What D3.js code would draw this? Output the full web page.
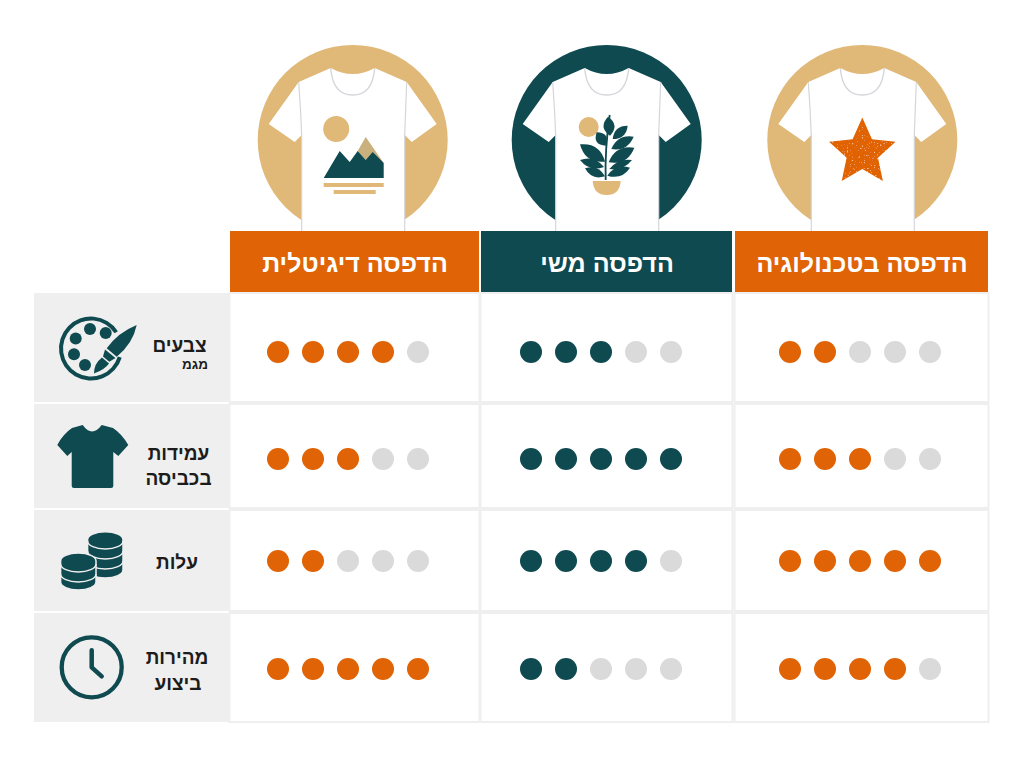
<!DOCTYPE html>
<html lang="he">
<head>
<meta charset="utf-8">
<script src="https://cdn.jsdelivr.net/npm/d3@7"></script>
<style>
  html, body { margin: 0; padding: 0; background: #fff; }
  svg { display: block; }
  text { font-family: "Liberation Sans", sans-serif; }
</style>
</head>
<body>
<div id="chart"></div>
<script>
var methods = ["הדפסה דיגיטלית", "הדפסה משי", "הדפסה בטכנולוגיה"];
var criteria = ["צבעים", "עמידות", "עלות", "מהירות"];
var criteriaLines = [["צבעים", "מגמ"], ["עמידות", "בכביסה"], ["עלות"], ["מהירות", "ביצוע"]];
var digitalScores = [4, 3, 2, 5];
var silkScores = [3, 5, 4, 2];
var techScores = [2, 3, 5, 4];
var maxScore = 5;

var TEAL = "#0f4a50", ORANGE = "#e06305", GOLD = "#e0b877", OFF = "#dadada",
    PANEL = "#efefef", GRID = "#efefef", SEAM = "#d4d6da";

var scores = [digitalScores, silkScores, techScores];
var accents = [ORANGE, TEAL, ORANGE];
var halos = [GOLD, TEAL, GOLD];

var svg = d3.select("#chart").append("svg")
    .attr("width", 1024).attr("height", 768).attr("viewBox", "0 0 1024 768");

// scales
var colLeft = d3.scaleOrdinal().domain(methods).range([230, 481, 735]);
var colWidth = d3.scaleOrdinal().domain(methods).range([249, 251, 253]);
var colCenter = d3.scaleOrdinal().domain(methods).range([355, 607, 862]);
var haloX = d3.scaleOrdinal().domain(methods).range([352.7, 606.7, 862.3]);
var dotCenter = d3.scaleOrdinal().domain(methods).range([348, 601, 860]);
var dotOffset = d3.scalePoint().domain(d3.range(maxScore)).range([-70, 70]);
var rowTop = d3.scaleOrdinal().domain(criteria).range([293, 404, 510, 613]);
var rowHeight = d3.scaleOrdinal().domain(criteria).range([109, 104, 101, 109]);
var dotY = d3.scaleOrdinal().domain(criteria).range([352, 459, 561, 669]);

var defs = svg.append("defs");
var speck = defs.append("filter").attr("id", "speck").attr("x", 0).attr("y", 0).attr("width", 1).attr("height", 1);
speck.append("feTurbulence").attr("type", "fractalNoise").attr("baseFrequency", 0.6).attr("numOctaves", 2).attr("seed", 4).attr("result", "n");
speck.append("feColorMatrix").attr("in", "n").attr("type", "matrix")
    .attr("values", "0 0 0 0 0.96  0 0 0 0 0.62  0 0 0 0 0.35  0 0 0 6 -3.9").attr("result", "s");
speck.append("feComposite").attr("in", "s").attr("in2", "SourceAlpha").attr("operator", "in").attr("result", "c");
var sm = speck.append("feMerge");
sm.append("feMergeNode").attr("in", "SourceGraphic");
sm.append("feMergeNode").attr("in", "c");

function leaf(g, b, t, w, fill) {
  var mx = (b[0] + t[0]) / 2, my = (b[1] + t[1]) / 2,
      dx = t[0] - b[0], dy = t[1] - b[1], len = Math.sqrt(dx * dx + dy * dy),
      nx = -dy / len * w, ny = dx / len * w;
  g.append("path")
      .attr("d", "M" + b + "Q" + [mx + nx, my + ny] + " " + t + "Q" + [mx - nx, my - ny] + " " + b)
      .attr("fill", fill);
}

// shirt drawn around the halo centre
function shirt(g) {
  g.append("path")
      .attr("d", "M-22,-72Q0,-60 22,-72L54,-58L84,-16L59,2L52,-5V91H-51V-5L-58,2L-84,-16L-54,-58Z")
      .attr("fill", "#fff");
  g.append("path").attr("d", "M-22,-72Q-20,-45 0,-45Q20,-45 22,-72")
      .attr("fill", "none").attr("stroke", SEAM).attr("stroke-width", 1.4);
  g.append("path").attr("d", "M-54,-58Q-52,-30 -51,-5V91M54,-58Q53,-30 52,-5V91")
      .attr("fill", "none").attr("stroke", SEAM).attr("stroke-width", 1.2);
}

function artMountain(g) {
  g.append("circle").attr("cx", -16.5).attr("cy", -11).attr("r", 13).attr("fill", GOLD);
  g.append("path").attr("d", "M5,11L13,-3L31,23L20,14L13,20Z").attr("fill", "#c9b07c");
  g.append("path").attr("d", "M-29,38L-13,11L-3,22L5,11L13,20L20,12L31,23V38Z").attr("fill", TEAL);
  g.append("rect").attr("x", -29).attr("y", 43).attr("width", 60).attr("height", 4).attr("fill", GOLD);
  g.append("rect").attr("x", -19).attr("y", 50).attr("width", 42).attr("height", 4).attr("fill", GOLD);
}

function artPlant(g) {
  g.append("circle").attr("cx", -18).attr("cy", -13).attr("r", 10).attr("fill", GOLD);
  g.append("path").attr("d", "M-14,41H14Q13,55 0,55Q-13,55 -14,41Z").attr("fill", GOLD);
  g.append("path").attr("d", "M-1,40Q-2,10 3,-25").attr("fill", "none").attr("stroke", TEAL).attr("stroke-width", 1.8);
  var p = function (x, y) { return [x / 3 - 36.7, y / 3 - 35]; };
  [[[120, 92], [114, 35], 11],
   [[128, 102], [173, 62], 9],
   [[108, 122], [80, 82], 11],
   [[124, 132], [191, 95], 10],
   [[116, 172], [193, 128], 12],
   [[105, 170], [30, 118], 13],
   [[118, 192], [186, 165], 7],
   [[102, 186], [30, 165], 9],
   [[112, 212], [180, 188], 9],
   [[105, 214], [45, 190], 9]
  ].forEach(function (l) { leaf(g, p(l[0][0], l[0][1]), p(l[1][0], l[1][1]), l[2], TEAL); });
}

function artStar(g) {
  var pts = d3.range(10).map(function (i) {
    var r = i % 2 ? 16.5 : 35, a = i * Math.PI / 5;
    return [r * Math.sin(a), 12.6 - r * Math.cos(a)];
  });
  g.append("path").attr("d", d3.line()(pts) + "Z").attr("fill", ORANGE).attr("filter", "url(#speck)");
}
var arts = [artMountain, artPlant, artStar];

// shirts, behind the headers
methods.forEach(function (m, i) {
  var g = svg.append("g").attr("transform", "translate(" + haloX(m) + ",140)");
  g.append("circle").attr("r", 95).attr("fill", halos[i]);
  shirt(g);
  arts[i](g);
});

// left panel and grid
svg.selectAll("rect.panel").data(criteria).enter().append("rect")
    .attr("class", "panel")
    .attr("x", 34).attr("width", 195)
    .attr("y", rowTop).attr("height", rowHeight)
    .attr("fill", PANEL);

methods.forEach(function (m) {
  svg.append("g").selectAll("rect").data(criteria).enter().append("rect")
      .attr("x", colLeft(m) - 0.5).attr("width", colWidth(m) + 1)
      .attr("y", rowTop).attr("height", rowHeight)
      .attr("fill", "#fff").attr("stroke", GRID).attr("stroke-width", 2);
});

// headers
svg.selectAll("rect.head").data(methods).enter().append("rect")
    .attr("class", "head")
    .attr("x", colLeft).attr("y", 231).attr("width", colWidth).attr("height", 61)
    .attr("fill", function (d, i) { return accents[i]; });
svg.selectAll("text.head").data(methods).enter().append("text")
    .attr("class", "head")
    .attr("x", colCenter).attr("y", 272)
    .attr("text-anchor", "middle").attr("fill", "#fff")
    .attr("font-size", 25).attr("font-weight", 700)
    .text(function (d) { return d; });

// rating dots
methods.forEach(function (m, c) {
  criteria.forEach(function (k, r) {
    svg.append("g").selectAll("circle").data(d3.range(maxScore)).enter().append("circle")
        .attr("cx", function (d) { return dotCenter(m) + dotOffset(d); })
        .attr("cy", dotY(k))
        .attr("r", 11)
        .attr("fill", function (d) { return d < scores[c][r] ? accents[c] : OFF; });
  });
});

// row labels
var labelX = [[179.5, 195], [178.5, 178.5], [177], [177, 178]];
var labelY = [[352, 368.5], [460, 485], [569], [664, 690]];
var labelSize = [[19, 13.5], [19, 19], [19], [19, 19]];
criteria.forEach(function (k, r) {
  criteriaLines[r].forEach(function (t, j) {
    svg.append("text")
        .attr("x", labelX[r][j]).attr("y", labelY[r][j])
        .attr("text-anchor", "middle").attr("fill", "#1c1c1c")
        .attr("font-size", labelSize[r][j]).attr("font-weight", 700)
        .text(t);
  });
});

// row icons
var icons = svg.append("g").attr("fill", TEAL);

var pal = icons.append("g").attr("transform", "translate(91,348.5)");
pal.append("path")
    .attr("d", d3.arc().innerRadius(28).outerRadius(32).startAngle(1.86).endAngle(7.28)());
[[-1, -19.5], [14.7, -15.5], [-15.3, -10], [-17, 5.8], [-6, 16.5]].forEach(function (w) {
  pal.append("circle").attr("cx", w[0]).attr("cy", w[1]).attr("r", 6);
});
pal.append("path").attr("d", "M45.7,-23.5Q42,-5 25.7,8.2L15.7,-0.2Q27,-16 45.7,-23.5Z");
pal.append("path").attr("d", "M14,1L24.5,9.5L18.3,13.2L12,8Z");
pal.append("path").attr("d", "M11,9L18,15Q14,21 3,25Q3,15 11,9Z");

icons.append("path")
    .attr("d", "M82.7,425Q92,438 101.7,425L113,428Q122,434 128.3,445L118.3,456L113.3,452V486Q113.3,488 111,488H74Q71.7,488 71.7,486V452L67.3,456L57.3,445Q63,434 72,428Z");

function coinStack(x, top, lines, bottom) {
  var rx = 17.7, ry = 8;
  var g = icons.append("g").attr("transform", "translate(" + x + ",0)");
  g.append("path")
      .attr("d", "M" + -rx + "," + top + "V" + bottom + "A" + rx + "," + ry + " 0 0 0 " + rx + "," + bottom + "V" + top + "A" + rx + "," + ry + " 0 0 0 " + -rx + "," + top + "Z")
      .attr("stroke", PANEL).attr("stroke-width", 1.5);
  lines.forEach(function (y) {
    g.append("path").attr("d", "M" + -rx + "," + y + "A" + rx + "," + ry + " 0 0 0 " + rx + "," + y)
        .attr("fill", "none").attr("stroke", PANEL).attr("stroke-width", 1.4);
  });
}
coinStack(105.3, 539.7, [541, 551, 561], 570);
coinStack(78.3, 561, [564, 574], 582);

var clock = icons.append("g").attr("transform", "translate(91.7,667.3)");
clock.append("circle").attr("r", 30).attr("fill", "none").attr("stroke", TEAL).attr("stroke-width", 4.3);
clock.append("path").attr("d", "M0,-17V0L10,9").attr("fill", "none").attr("stroke", TEAL)
    .attr("stroke-width", 4.5).attr("stroke-linecap", "round").attr("stroke-linejoin", "round");
</script>
</body>
</html>
